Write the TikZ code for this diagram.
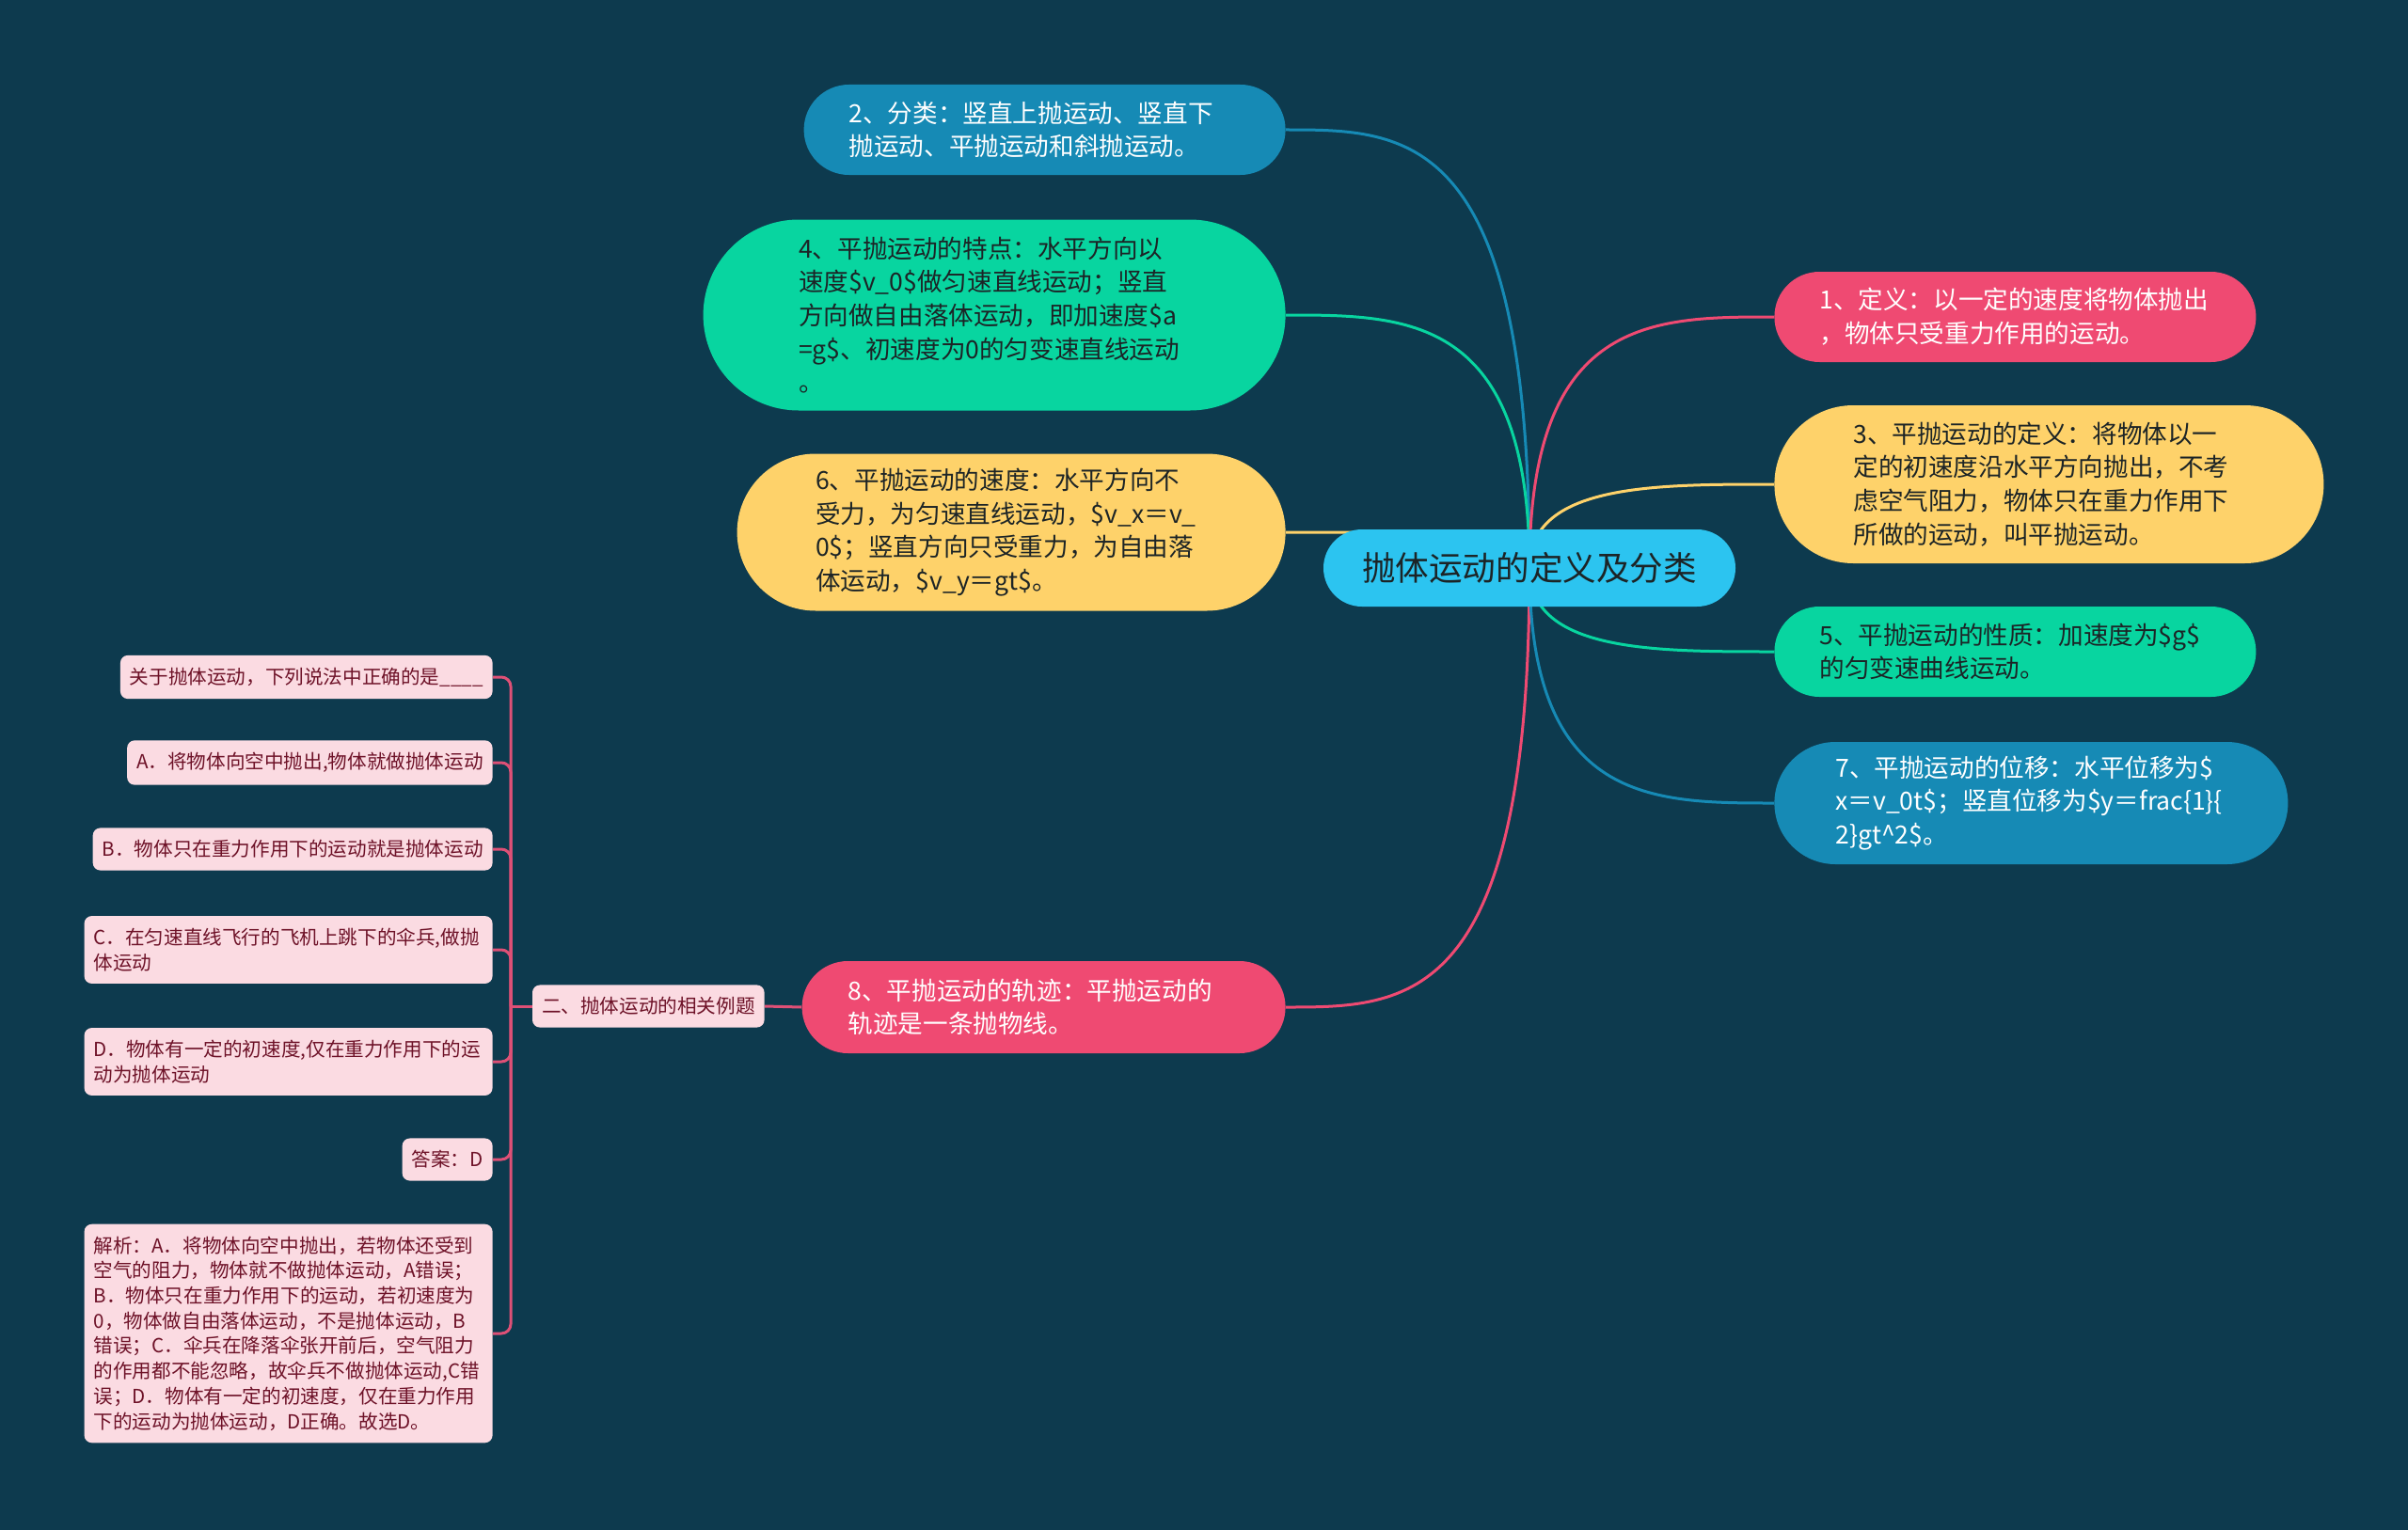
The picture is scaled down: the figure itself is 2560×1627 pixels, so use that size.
\documentclass[tikz,border=0pt]{standalone}
\usepackage{fontspec}
\setmainfont{Noto Sans CJK SC}
\usepackage{tikz}
\usetikzlibrary{calc}

\definecolor{bgteal}{RGB}{13,58,78}
\definecolor{rootblue}{RGB}{44,196,240}
\definecolor{topicblue}{RGB}{22,138,181}
\definecolor{topicgreen}{RGB}{8,213,160}
\definecolor{topicyellow}{RGB}{254,210,106}
\definecolor{topicpink}{RGB}{239,74,114}
\definecolor{leaffill}{RGB}{251,219,226}
\definecolor{leaftext}{RGB}{110,18,40}
\definecolor{leafline}{RGB}{222,80,118}
\definecolor{darktext}{RGB}{28,36,38}

\pgfdeclarelayer{bg}
\pgfdeclarelayer{lines}
\pgfsetlayers{bg,lines,main}

\begin{document}
\begin{tikzpicture}[x=0.5pt, y=-0.5pt,
  root/.style={rectangle, fill=rootblue, text=darktext, minimum height=41pt,
    rounded corners=20.45pt, inner xsep=20.5pt, inner ysep=2pt,
    font=\fontsize{17.8pt}{20pt}\selectfont},
  topic/.style={rectangle, minimum height=#1, rounded corners=#1/2-0.05pt,
    inner xsep=#1/2, inner ysep=3pt, text width=208pt, align=left,
    font=\fontsize{13.3pt}{17.85pt}\selectfont},
  leaf/.style={rectangle, rounded corners=4pt, fill=leaffill, text=leaftext, align=left,
    inner xsep=5pt, inner ysep=6.5pt, font=\fontsize{10.3pt}{13.35pt}\selectfont},
  link/.style={line width=1.5pt},
  leafedge/.style={line width=1.5pt, leafline, rounded corners=5pt}]

\useasboundingbox (0,0) rectangle (2560,1627);
\begin{pgfonlayer}{bg}
  \fill[bgteal] (0,0) rectangle (2560,1627);
\end{pgfonlayer}

% Central topic
\node[root] (root) at (1626,604) {抛体运动的定义及分类};

% Left branches
\node[topic=48pt, fill=topicblue, text=white, anchor=east] (n2) at (1367,138)
  {2、分类：竖直上抛运动、竖直下\\抛运动、平抛运动和斜抛运动。};
\node[topic=101.5pt, fill=topicgreen, text=darktext, anchor=east] (n4) at (1367,335)
  {4、平抛运动的特点：水平方向以\\速度\$v\_0\$做匀速直线运动；竖直\\方向做自由落体运动，即加速度\$a\\=g\$、初速度为0的匀变速直线运动\\。};
\node[topic=83.5pt, fill=topicyellow, text=darktext, anchor=east] (n6) at (1367,566)
  {6、平抛运动的速度：水平方向不\\受力，为匀速直线运动，\$v\_x＝v\_\\0\$；竖直方向只受重力，为自由落\\体运动，\$v\_y＝gt\$。};
\node[topic=49pt, fill=topicpink, text=white, anchor=east] (n8) at (1367,1071)
  {8、平抛运动的轨迹：平抛运动的\\轨迹是一条抛物线。};

% Right branches
\node[topic=48pt, fill=topicpink, text=white, anchor=west] (n1) at (1886,337)
  {1、定义：以一定的速度将物体抛出\\，物体只受重力作用的运动。};
\node[topic=84pt, fill=topicyellow, text=darktext, anchor=west] (n3) at (1886,515)
  {3、平抛运动的定义：将物体以一\\定的初速度沿水平方向抛出，不考\\虑空气阻力，物体只在重力作用下\\所做的运动，叫平抛运动。};
\node[topic=48pt, fill=topicgreen, text=darktext, anchor=west] (n5) at (1886,693)
  {5、平抛运动的性质：加速度为\$g\$\\的匀变速曲线运动。};
\node[topic=65pt, fill=topicblue, text=white, anchor=west] (n7) at (1886,854)
  {7、平抛运动的位移：水平位移为\$\\x＝v\_0t\$；竖直位移为\$y＝frac\{1\}\{\\2\}gt\textasciicircum2\$。};

% Example sub-branch and its leaves
\node[leaf, anchor=east] (sub) at (813,1070) {二、抛体运动的相关例题};
\node[leaf, anchor=east] (q) at (524,720) {关于抛体运动，下列说法中正确的是\_\_\_\_};
\node[leaf, anchor=east] (a) at (524,811) {A．将物体向空中抛出,物体就做抛体运动};
\node[leaf, anchor=east] (b) at (524,903) {B．物体只在重力作用下的运动就是抛体运动};
\node[leaf, anchor=east, text width=207pt] (c) at (524,1010)
  {C．在匀速直线飞行的飞机上跳下的伞兵,做抛\\体运动};
\node[leaf, anchor=east, text width=207pt] (d) at (524,1129)
  {D．物体有一定的初速度,仅在重力作用下的运\\动为抛体运动};
\node[leaf, anchor=east] (ans) at (524,1233) {答案：D};
\node[leaf, anchor=east, text width=207pt] (exp) at (524,1418)
  {解析：A．将物体向空中抛出，若物体还受到\\空气的阻力，物体就不做抛体运动，A错误；\\B．物体只在重力作用下的运动，若初速度为\\0，物体做自由落体运动，不是抛体运动，B\\错误；C．伞兵在降落伞张开前后，空气阻力\\的作用都不能忽略，故伞兵不做抛体运动,C错\\误；D．物体有一定的初速度，仅在重力作用\\下的运动为抛体运动，D正确。故选D。};
\coordinate (spine) at (543,1070);

% Connectors
\begin{pgfonlayer}{lines}
  \foreach \n/\c in {n2/topicblue, n4/topicgreen, n6/topicyellow, n8/topicpink}
    \draw[link, \c] (root.center) .. controls (root.center |- \n.east)
      and ($(root.center |- \n.east)!0.5!(\n.east)$) .. (\n.east);
  \foreach \n/\c in {n1/topicpink, n3/topicyellow, n5/topicgreen, n7/topicblue}
    \draw[link, \c] (root.center) .. controls (root.center |- \n.west)
      and ($(root.center |- \n.west)!0.5!(\n.west)$) .. (\n.west);
  \draw[leafedge] (n8.west) -- (sub.east);
  \draw[leafedge] (sub.west) -- (spine);
  \foreach \l in {q,a,b,c,d,ans,exp}
    \draw[leafedge] (\l.east) -| (spine);
\end{pgfonlayer}

\end{tikzpicture}
\end{document}
